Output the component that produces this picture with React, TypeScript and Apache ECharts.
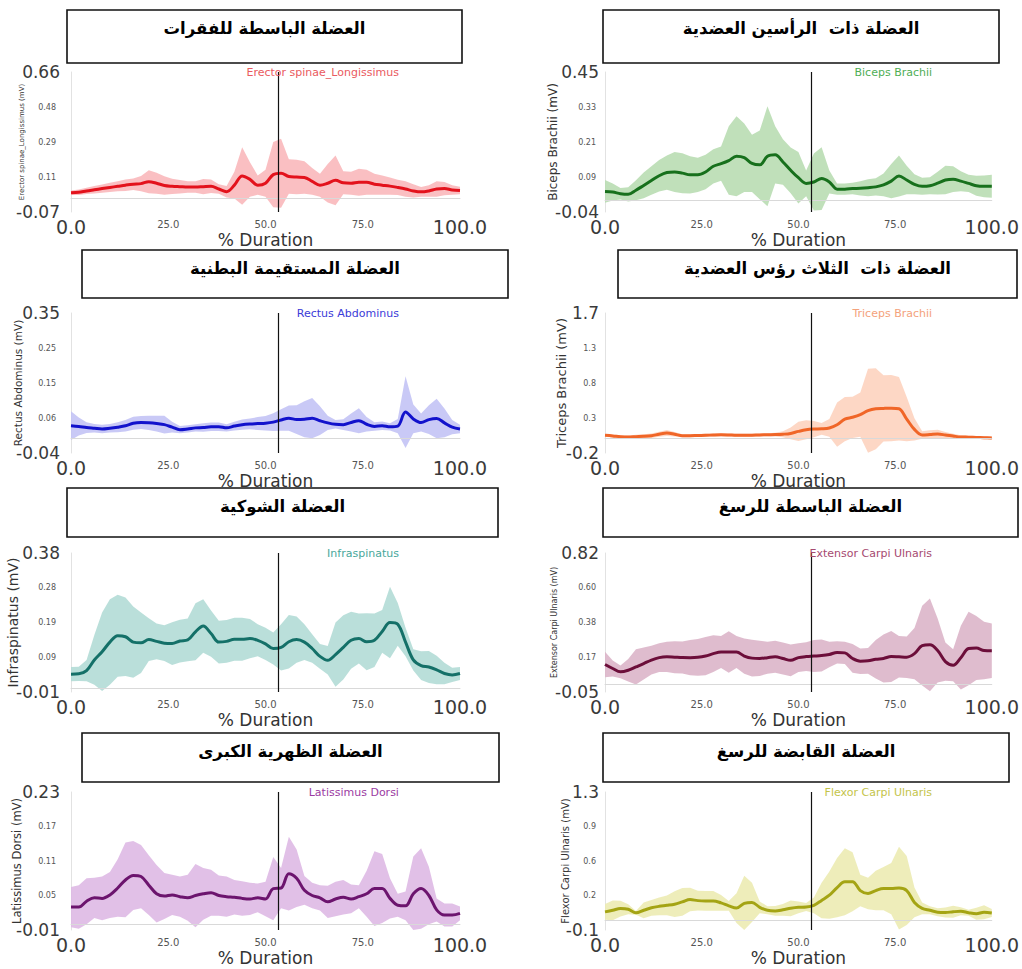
import { useEffect, useRef } from 'react';
import * as echarts from 'echarts';

const FONT = '"DejaVu Sans", Verdana, sans-serif';

// Normalised movement time (%) at which every curve is sampled
const duration = [0, 2, 4, 6, 8, 10, 12, 14, 16, 18, 20, 22, 24, 26, 28, 30, 32, 34, 36, 38, 40, 42, 44, 46, 48, 50, 52, 54, 56, 58, 60, 62, 64, 66, 68, 70, 72, 74, 76, 78, 80, 82, 84, 86, 88, 90, 92, 94, 96, 98, 100];
const xTicks = [0, 25, 50, 75, 100];
// Event marker drawn as the vertical line in every panel
const eventMarker = 53.2;

// Erector spinae (Longissimus)
const erectorTicks = ['-0.07', '0.11', '0.29', '0.48', '0.66'];
const erectorMean = [0.03, 0.033, 0.04, 0.046, 0.052, 0.058, 0.064, 0.07, 0.075, 0.078, 0.088, 0.08, 0.068, 0.064, 0.062, 0.06, 0.06, 0.062, 0.064, 0.05, 0.036, 0.07, 0.118, 0.1, 0.07, 0.08, 0.125, 0.132, 0.115, 0.112, 0.11, 0.09, 0.07, 0.08, 0.095, 0.082, 0.08, 0.085, 0.085, 0.075, 0.07, 0.065, 0.058, 0.05, 0.04, 0.035, 0.04, 0.05, 0.052, 0.045, 0.042];
const erectorSd = [0.012, 0.014, 0.016, 0.02, 0.022, 0.024, 0.026, 0.03, 0.03, 0.04, 0.06, 0.055, 0.048, 0.04, 0.035, 0.03, 0.03, 0.04, 0.035, 0.025, 0.03, 0.07, 0.15, 0.09, 0.05, 0.07, 0.17, 0.18, 0.09, 0.09, 0.085, 0.07, 0.06, 0.1, 0.13, 0.06, 0.06, 0.07, 0.065, 0.055, 0.05, 0.045, 0.04, 0.04, 0.035, 0.025, 0.03, 0.04, 0.035, 0.025, 0.02];

// Biceps brachii
const bicepsTicks = ['-0.04', '0.09', '0.21', '0.33', '0.45'];
const bicepsMean = [0.032, 0.03, 0.024, 0.022, 0.036, 0.053, 0.07, 0.087, 0.098, 0.1, 0.096, 0.09, 0.09, 0.1, 0.12, 0.129, 0.14, 0.155, 0.15, 0.13, 0.125, 0.155, 0.16, 0.135, 0.106, 0.08, 0.06, 0.065, 0.077, 0.065, 0.04, 0.04, 0.042, 0.043, 0.045, 0.048, 0.055, 0.068, 0.086, 0.072, 0.057, 0.05, 0.052, 0.061, 0.072, 0.075, 0.068, 0.06, 0.052, 0.05, 0.05];
const bicepsSd = [0.04, 0.03, 0.02, 0.025, 0.035, 0.045, 0.05, 0.055, 0.06, 0.07, 0.07, 0.065, 0.06, 0.06, 0.06, 0.06, 0.12, 0.14, 0.12, 0.1, 0.12, 0.175, 0.1, 0.08, 0.08, 0.09, 0.045, 0.1, 0.11, 0.04, 0.02, 0.02, 0.02, 0.025, 0.03, 0.03, 0.04, 0.06, 0.072, 0.05, 0.035, 0.03, 0.03, 0.04, 0.05, 0.045, 0.035, 0.03, 0.035, 0.038, 0.04];

// Rectus abdominis
const rectusTicks = ['-0.04', '0.06', '0.15', '0.25', '0.35'];
const rectusMean = [0.036, 0.034, 0.031, 0.029, 0.027, 0.029, 0.032, 0.036, 0.043, 0.045, 0.044, 0.042, 0.039, 0.032, 0.025, 0.027, 0.03, 0.031, 0.033, 0.033, 0.03, 0.035, 0.039, 0.041, 0.042, 0.043, 0.046, 0.052, 0.057, 0.053, 0.054, 0.057, 0.05, 0.044, 0.04, 0.039, 0.045, 0.05, 0.04, 0.034, 0.036, 0.033, 0.035, 0.074, 0.055, 0.045, 0.053, 0.056, 0.044, 0.032, 0.027];
const rectusSd = [0.04, 0.025, 0.015, 0.012, 0.012, 0.012, 0.014, 0.016, 0.018, 0.018, 0.02, 0.022, 0.025, 0.015, 0.01, 0.01, 0.01, 0.012, 0.012, 0.012, 0.01, 0.012, 0.014, 0.015, 0.018, 0.02, 0.025, 0.03, 0.035, 0.04, 0.05, 0.056, 0.04, 0.02, 0.012, 0.015, 0.025, 0.035, 0.02, 0.012, 0.012, 0.01, 0.02, 0.1, 0.04, 0.025, 0.04, 0.055, 0.04, 0.02, 0.012];

// Triceps brachii
const tricepsTicks = ['-0.2', '0.3', '0.8', '1.3', '1.7'];
const tricepsMean = [0.04, 0.032, 0.022, 0.018, 0.022, 0.026, 0.035, 0.055, 0.071, 0.055, 0.035, 0.035, 0.038, 0.04, 0.045, 0.048, 0.045, 0.04, 0.04, 0.042, 0.045, 0.048, 0.05, 0.055, 0.066, 0.093, 0.115, 0.125, 0.128, 0.14, 0.184, 0.26, 0.285, 0.32, 0.374, 0.4, 0.405, 0.408, 0.4, 0.26, 0.12, 0.045, 0.05, 0.057, 0.045, 0.03, 0.017, 0.015, 0.012, 0.008, 0.003];
const tricepsSd = [0.02, 0.02, 0.02, 0.02, 0.025, 0.03, 0.03, 0.035, 0.04, 0.03, 0.02, 0.02, 0.02, 0.02, 0.02, 0.02, 0.02, 0.02, 0.02, 0.02, 0.02, 0.02, 0.025, 0.04, 0.08, 0.13, 0.13, 0.11, 0.08, 0.12, 0.3, 0.3, 0.28, 0.3, 0.57, 0.55, 0.45, 0.45, 0.43, 0.3, 0.15, 0.05, 0.06, 0.06, 0.04, 0.03, 0.025, 0.02, 0.02, 0.02, 0.02];

// Infraspinatus
const infraTicks = ['-0.01', '0.09', '0.19', '0.28', '0.38'];
const infraMean = [0.04, 0.041, 0.05, 0.08, 0.103, 0.13, 0.148, 0.145, 0.13, 0.128, 0.137, 0.132, 0.127, 0.126, 0.133, 0.136, 0.159, 0.175, 0.154, 0.13, 0.132, 0.138, 0.138, 0.14, 0.135, 0.125, 0.112, 0.115, 0.131, 0.137, 0.13, 0.112, 0.09, 0.079, 0.095, 0.115, 0.135, 0.14, 0.131, 0.135, 0.16, 0.185, 0.18, 0.13, 0.08, 0.064, 0.06, 0.052, 0.042, 0.038, 0.042];
const infraSd = [0.02, 0.02, 0.03, 0.07, 0.11, 0.12, 0.115, 0.11, 0.1, 0.085, 0.06, 0.05, 0.05, 0.06, 0.06, 0.06, 0.08, 0.075, 0.065, 0.06, 0.06, 0.06, 0.06, 0.055, 0.045, 0.045, 0.045, 0.065, 0.075, 0.065, 0.05, 0.04, 0.035, 0.04, 0.09, 0.09, 0.08, 0.07, 0.08, 0.075, 0.06, 0.1, 0.06, 0.04, 0.03, 0.04, 0.045, 0.04, 0.03, 0.02, 0.018];

// Extensor carpi ulnaris
const extensorTicks = ['-0.05', '0.17', '0.38', '0.60', '0.82'];
const extensorMean = [0.122, 0.097, 0.076, 0.086, 0.107, 0.128, 0.15, 0.165, 0.17, 0.168, 0.166, 0.165, 0.167, 0.175, 0.19, 0.2, 0.2, 0.2, 0.175, 0.162, 0.16, 0.165, 0.17, 0.16, 0.148, 0.165, 0.172, 0.175, 0.178, 0.185, 0.198, 0.195, 0.16, 0.143, 0.145, 0.155, 0.16, 0.172, 0.17, 0.168, 0.19, 0.24, 0.245, 0.21, 0.14, 0.118, 0.165, 0.222, 0.225, 0.21, 0.208];
const extensorSd = [0.08, 0.05, 0.04, 0.07, 0.11, 0.1, 0.09, 0.09, 0.095, 0.1, 0.1, 0.11, 0.115, 0.12, 0.115, 0.1, 0.13, 0.1, 0.11, 0.115, 0.11, 0.1, 0.1, 0.1, 0.1, 0.09, 0.09, 0.1, 0.1, 0.08, 0.07, 0.07, 0.09, 0.08, 0.08, 0.12, 0.15, 0.16, 0.13, 0.13, 0.16, 0.25, 0.29, 0.2, 0.12, 0.1, 0.2, 0.23, 0.2, 0.18, 0.17];

// Latissimus dorsi
const latTicks = ['-0.01', '0.05', '0.11', '0.17', '0.23'];
const latMean = [0.03, 0.03, 0.04, 0.046, 0.045, 0.051, 0.063, 0.077, 0.085, 0.083, 0.068, 0.053, 0.049, 0.051, 0.048, 0.046, 0.05, 0.053, 0.055, 0.05, 0.048, 0.047, 0.045, 0.044, 0.046, 0.044, 0.062, 0.063, 0.088, 0.08, 0.059, 0.05, 0.046, 0.039, 0.044, 0.047, 0.044, 0.048, 0.053, 0.062, 0.062, 0.045, 0.033, 0.032, 0.053, 0.062, 0.05, 0.025, 0.016, 0.016, 0.019];
const latSd = [0.035, 0.038, 0.04, 0.035, 0.038, 0.04, 0.05, 0.065, 0.06, 0.055, 0.052, 0.05, 0.04, 0.035, 0.035, 0.04, 0.055, 0.045, 0.04, 0.035, 0.035, 0.03, 0.03, 0.028, 0.025, 0.03, 0.055, 0.035, 0.064, 0.05, 0.025, 0.022, 0.022, 0.028, 0.03, 0.03, 0.025, 0.02, 0.04, 0.065, 0.06, 0.035, 0.02, 0.025, 0.065, 0.07, 0.05, 0.02, 0.02, 0.02, 0.012];

// Flexor carpi ulnaris
const flexorTicks = ['-0.1', '0.2', '0.6', '0.9', '1.3'];
const flexorMean = [0.084, 0.1, 0.118, 0.11, 0.074, 0.1, 0.125, 0.14, 0.15, 0.162, 0.185, 0.209, 0.198, 0.195, 0.195, 0.175, 0.145, 0.122, 0.17, 0.18, 0.13, 0.1, 0.094, 0.105, 0.12, 0.13, 0.133, 0.15, 0.2, 0.253, 0.33, 0.39, 0.39, 0.3, 0.27, 0.3, 0.32, 0.32, 0.325, 0.3, 0.18, 0.12, 0.1, 0.08, 0.077, 0.085, 0.09, 0.075, 0.065, 0.08, 0.072];
const flexorSd = [0.08, 0.1, 0.08, 0.05, 0.02, 0.08, 0.08, 0.09, 0.1, 0.13, 0.14, 0.12, 0.1, 0.1, 0.1, 0.08, 0.05, 0.15, 0.28, 0.2, 0.06, 0.04, 0.05, 0.06, 0.08, 0.06, 0.04, 0.08, 0.18, 0.24, 0.3, 0.34, 0.3, 0.16, 0.16, 0.2, 0.22, 0.26, 0.42, 0.35, 0.15, 0.06, 0.04, 0.04, 0.05, 0.06, 0.04, 0.03, 0.06, 0.07, 0.04];

type Panel = {
  title: string;
  muscle: string;
  yName: string;
  yTicks: string[];
  mean: number[];
  sd: number[];
};

const panels: Panel[] = [
  { title: 'العضلة الباسطة للفقرات', muscle: 'Erector spinae_Longissimus', yName: 'Erector spinae_Longissimus (mV)', yTicks: erectorTicks, mean: erectorMean, sd: erectorSd },
  { title: 'العضلة ذات  الرأسين العضدية', muscle: 'Biceps Brachii', yName: 'Biceps Brachii (mV)', yTicks: bicepsTicks, mean: bicepsMean, sd: bicepsSd },
  { title: 'العضلة المستقيمة البطنية', muscle: 'Rectus Abdominus', yName: 'Rectus Abdominus (mV)', yTicks: rectusTicks, mean: rectusMean, sd: rectusSd },
  { title: 'العضلة ذات  الثلاث رؤس العضدية', muscle: 'Triceps Brachii', yName: 'Triceps Brachii (mV)', yTicks: tricepsTicks, mean: tricepsMean, sd: tricepsSd },
  { title: 'العضلة الشوكية', muscle: 'Infraspinatus', yName: 'Infraspinatus (mV)', yTicks: infraTicks, mean: infraMean, sd: infraSd },
  { title: 'العضلة الباسطة للرسغ', muscle: 'Extensor Carpi Ulnaris', yName: 'Extensor Carpi Ulnaris (mV)', yTicks: extensorTicks, mean: extensorMean, sd: extensorSd },
  { title: 'العضلة الظهرية الكبرى', muscle: 'Latissimus Dorsi', yName: 'Latissimus Dorsi (mV)', yTicks: latTicks, mean: latMean, sd: latSd },
  { title: 'العضلة القابضة للرسغ', muscle: 'Flexor Carpi Ulnaris', yName: 'Flexor Carpi Ulnaris (mV)', yTicks: flexorTicks, mean: flexorMean, sd: flexorSd },
];

// Colours per panel: mean line, ±SD band, caption
const palette = [
  { line: '#e3121c', band: '#f9b8bb', label: '#ea5a60' },
  { line: '#17701c', band: '#b9ddb3', label: '#4fae55' },
  { line: '#1212cc', band: '#c3c3f5', label: '#3b3bd8' },
  { line: '#f06628', band: '#fdd3bf', label: '#f4a27c' },
  { line: '#147068', band: '#b3dcd6', label: '#48a79b' },
  { line: '#6c0e3a', band: '#dcb5c9', label: '#a64a70' },
  { line: '#6c146e', band: '#deb9e4', label: '#9b3ba2' },
  { line: '#a4a414', band: '#ecebb3', label: '#c4c44a' },
];

// Panel geometry in page pixels: [left, top, width, height]
const plotRects = [
  [71, 72, 389, 140], [605, 72, 388, 140],
  [71, 313, 389, 140], [605, 313, 388, 140],
  [71, 553, 389, 139], [605, 553, 388, 139],
  [71, 792, 389, 138], [605, 792, 388, 138],
];
const titleRects = [
  [67, 10, 395, 53], [603, 10, 396, 53],
  [82, 250, 426, 48], [618, 250, 399, 48],
  [67, 488, 431, 49], [603, 488, 415, 49],
  [82, 733, 417, 49], [603, 733, 406, 49],
];
// y-axis name font size and distance from the axis line
const yNameStyle = [
  { size: 7, gap: 46 }, { size: 12, gap: 46 },
  { size: 10.5, gap: 48 }, { size: 13, gap: 37 },
  { size: 14, gap: 51 }, { size: 8, gap: 47 },
  { size: 11.5, gap: 48 }, { size: 10, gap: 35 },
];

function buildOption() {
  const grid: any[] = [];
  const xAxis: any[] = [];
  const yAxis: any[] = [];
  const series: any[] = [];
  const elements: any[] = [];

  panels.forEach((p, i) => {
    const [left, top, width, height] = plotRects[i];
    const col = palette[i];
    const isLeft = i % 2 === 0;
    grid.push({ left, top, width, height });

    const n = p.yTicks.length;
    const yMin = parseFloat(p.yTicks[0]);
    const yMax = parseFloat(p.yTicks[n - 1]);
    const step = (yMax - yMin) / (n - 1);
    const tickValues = p.yTicks.map((_, k) => yMin + k * step);

    xAxis.push({
      type: 'value',
      gridIndex: i,
      min: xTicks[0],
      max: xTicks[xTicks.length - 1],
      interval: xTicks[1] - xTicks[0],
      axisLine: { show: true, lineStyle: { color: '#dcdcdc', width: 1 } },
      axisTick: { show: false },
      splitLine: { show: false },
      axisLabel: {
        margin: 5,
        formatter: (v: number) =>
          v === xTicks[0] || v === xTicks[xTicks.length - 1] ? `{big|${v.toFixed(1)}}` : `{small|${v.toFixed(1)}}`,
        rich: {
          big: { fontSize: 19, color: '#3a3a3a', fontFamily: FONT },
          small: { fontSize: 10, color: '#555', fontFamily: FONT, padding: [2, 0, 0, 0] },
        },
      },
      name: '% Duration',
      nameLocation: 'middle',
      nameGap: 19,
      nameMoveOverlap: false,
      nameTextStyle: { fontSize: 17, color: '#333', fontFamily: FONT },
    });

    yAxis.push({
      type: 'value',
      gridIndex: i,
      min: yMin,
      max: yMax,
      axisLine: { show: true, lineStyle: { color: '#e2e2e2', width: 1 } },
      axisTick: { show: false },
      splitLine: { show: false },
      axisLabel: {
        margin: isLeft ? 11 : 6,
        customValues: tickValues,
        formatter: (v: number) => {
          const k = Math.round((v - yMin) / step);
          const t = p.yTicks[k];
          return k === 0 || k === n - 1 ? `{big|${t}}` : `{small|${t}}`;
        },
        rich: {
          big: { fontSize: 17, color: '#3a3a3a', fontFamily: FONT },
          small: { fontSize: 8, color: '#555', fontFamily: FONT, padding: [0, isLeft ? 4 : 3, 0, 0] },
        },
      },
      name: p.yName,
      nameLocation: 'middle',
      nameRotate: 90,
      nameGap: yNameStyle[i].gap,
      nameMoveOverlap: false,
      nameTextStyle: { fontSize: yNameStyle[i].size, color: '#333', fontFamily: FONT },
    });

    const lower = p.mean.map((m, k) => m - p.sd[k]);
    const upper = p.mean.map((m, k) => m + p.sd[k]);

    // ±SD band: one polygon through the upper edge and back along the lower edge
    series.push({
      type: 'custom',
      xAxisIndex: i,
      yAxisIndex: i,
      silent: true,
      z: 1,
      data: duration.map((x, k) => [x, lower[k], upper[k]]),
      encode: { x: 0, y: [1, 2] },
      renderItem: (params: any, api: any) => {
        if (params.dataIndex !== 0) return null;
        const pts: number[][] = [];
        for (let k = 0; k < duration.length; k++) pts.push(api.coord([duration[k], upper[k]]));
        for (let k = duration.length - 1; k >= 0; k--) pts.push(api.coord([duration[k], lower[k]]));
        const cs = params.coordSys;
        const clipped = echarts.graphic.clipPointsByRect(pts, {
          x: cs.x,
          y: cs.y,
          width: cs.width,
          height: cs.height,
        });
        return {
          type: 'polygon',
          shape: { points: clipped },
          style: { fill: col.band, opacity: 0.9 },
        };
      },
    });

    // Zero reference and event marker
    series.push({
      type: 'line',
      xAxisIndex: i,
      yAxisIndex: i,
      data: [],
      silent: true,
      z: 2,
      markLine: {
        silent: true,
        symbol: ['none', 'none'],
        label: { show: false },
        data: [
          { yAxis: 0, lineStyle: { color: '#d9d9d9', width: 1, type: 'solid' } },
          { xAxis: eventMarker, lineStyle: { color: '#111', width: 1.2, type: 'solid' } },
        ],
      },
    });

    series.push({
      type: 'line',
      xAxisIndex: i,
      yAxisIndex: i,
      data: duration.map((x, k) => [x, p.mean[k]]),
      symbol: 'none',
      smooth: 0.35,
      lineStyle: { color: col.line, width: 3 },
      z: 3,
    });

    // Title box
    const [bx, by, bw, bh] = titleRects[i];
    elements.push({
      type: 'rect',
      shape: { x: bx, y: by, width: bw, height: bh },
      style: { fill: '#fff', stroke: '#111', lineWidth: 1.6 },
      z: 10,
    });
    elements.push({
      type: 'text',
      x: bx + bw / 2,
      y: by + 18,
      style: {
        text: p.title,
        fill: '#000',
        fontSize: 16.5,
        fontWeight: 'bold',
        fontFamily: FONT,
        align: 'center',
        verticalAlign: 'middle',
        textAlign: 'center',
        textVerticalAlign: 'middle',
      },
      z: 11,
    });
    // Muscle caption inside the plot
    elements.push({
      type: 'text',
      x: left + width * 0.843,
      y: top,
      style: {
        text: p.muscle,
        fill: col.label,
        fontSize: 11,
        fontFamily: FONT,
        align: 'right',
        verticalAlign: 'middle',
        textAlign: 'right',
        textVerticalAlign: 'middle',
      },
      z: 11,
    });
  });

  return {
    animation: false,
    backgroundColor: '#fff',
    grid,
    xAxis,
    yAxis,
    series,
    graphic: { elements },
  };
}

export default function App() {
  const ref = useRef<HTMLDivElement>(null);
  useEffect(() => {
    if (!ref.current) return;
    const chart = echarts.init(ref.current, null, { renderer: 'svg' });
    chart.setOption(buildOption() as any);
    return () => chart.dispose();
  }, []);
  return (
    <div
      ref={ref}
      style={{ position: 'absolute', left: 0, top: 0, width: 1022, height: 969, background: '#fff' }}
    />
  );
}
